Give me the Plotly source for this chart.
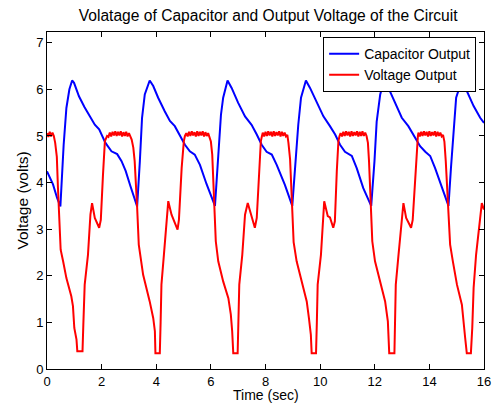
import plotly.graph_objects as go

# ---------------- data ----------------
cap_time = [0.00, 0.22, 0.37, 0.49, 0.61, 0.71, 0.82, 0.92, 0.99, 1.17, 1.37, 1.57, 1.75, 1.91,
            2.14, 2.36, 2.57, 2.73, 2.88, 3.05, 3.30,
            3.40, 3.48, 3.58, 3.76, 3.89, 4.07, 4.31, 4.50, 4.68, 4.86, 5.05, 5.23, 5.41, 5.60, 5.84, 6.15,
            6.27, 6.37, 6.45, 6.61, 6.76, 7.00, 7.25, 7.49, 7.68, 7.86, 8.04, 8.23, 8.41, 8.71, 8.98,
            9.10, 9.20, 9.30, 9.48, 9.63, 9.88, 10.12, 10.36, 10.55, 10.73, 10.91, 11.16, 11.34, 11.58, 11.87,
            11.99, 12.07, 12.20, 12.34, 12.50, 12.75, 12.99, 13.23, 13.48, 13.66, 13.85, 14.03, 14.21, 14.46, 14.70,
            14.79, 14.88, 14.98, 15.19, 15.37, 15.62, 15.86, 16.00]
cap_volt = [4.24, 3.96, 3.67, 3.49, 4.81, 5.60, 6.00, 6.19, 6.14, 5.85, 5.62, 5.42, 5.24, 5.14,
            4.85, 4.67, 4.61, 4.46, 4.25, 3.93, 3.49,
            4.46, 5.39, 5.89, 6.19, 6.07, 5.82, 5.53, 5.32, 5.21, 5.03, 4.81, 4.67, 4.60, 4.38, 3.97, 3.50,
            4.60, 5.46, 5.82, 6.19, 6.03, 5.71, 5.42, 5.24, 5.03, 4.81, 4.66, 4.60, 4.38, 3.95, 3.50,
            4.46, 5.24, 5.82, 6.19, 6.03, 5.71, 5.42, 5.21, 5.03, 4.81, 4.66, 4.57, 4.31, 3.88, 3.50,
            4.46, 5.30, 5.89, 6.20, 6.03, 5.71, 5.39, 5.21, 4.96, 4.78, 4.66, 4.57, 4.31, 3.88, 3.50,
            4.31, 5.10, 5.82, 6.20, 5.96, 5.64, 5.39, 5.28]

out_time = [0.00, 0.05, 0.10, 0.15, 0.20, 0.25,
            0.30, 0.36, 0.40, 0.45, 0.50, 0.59, 0.71, 0.89, 0.95, 1.00, 1.08, 1.11, 1.30, 1.33, 1.38,
            1.50, 1.59, 1.65, 1.75, 1.91, 1.97, 2.05, 2.12, 2.20,
            2.25, 2.30, 2.35, 2.40, 2.45, 2.50, 2.55, 2.60, 2.65, 2.70, 2.75, 2.80, 2.85, 2.90, 2.95, 3.00, 3.05,
            3.10, 3.16, 3.21, 3.30, 3.36, 3.52, 3.65, 3.76, 3.89, 3.95, 3.97, 4.13, 4.16, 4.19, 4.28, 4.38,
            4.44, 4.56, 4.78, 4.83, 4.93, 5.01, 5.05,
            5.10, 5.15, 5.20, 5.25, 5.30, 5.35, 5.40, 5.45, 5.50, 5.55, 5.60, 5.65, 5.70, 5.75, 5.80, 5.85,
            5.90, 5.95,
            6.00, 6.05, 6.12, 6.18, 6.27, 6.45, 6.64, 6.73, 6.78, 6.82, 6.98, 7.01, 7.04, 7.15, 7.25, 7.35,
            7.47, 7.61, 7.68, 7.76, 7.83, 7.87,
            7.90, 7.95, 8.00, 8.05, 8.10, 8.15, 8.20, 8.25, 8.30, 8.35, 8.40, 8.45, 8.50, 8.55, 8.60, 8.65,
            8.70, 8.75, 8.80,
            8.84, 8.90, 8.97, 9.03, 9.14, 9.33, 9.51, 9.59, 9.66, 9.69, 9.85, 9.88, 9.91, 10.03, 10.10, 10.15,
            10.28, 10.36, 10.48, 10.54, 10.61, 10.67, 10.71,
            10.75, 10.80, 10.85, 10.90, 10.95, 11.00, 11.05, 11.10, 11.15, 11.20, 11.25, 11.30, 11.35, 11.40,
            11.45, 11.50, 11.55, 11.60, 11.65, 11.70,
            11.75, 11.79, 11.87, 11.91, 12.01, 12.20, 12.38, 12.48, 12.51, 12.53, 12.72, 12.75, 12.77, 12.87,
            12.97, 13.05, 13.15, 13.33, 13.39, 13.48, 13.55, 13.58,
            13.60, 13.65, 13.70, 13.75, 13.80, 13.85, 13.90, 13.95, 14.00, 14.05, 14.10, 14.15, 14.20, 14.25,
            14.30, 14.35, 14.40, 14.45, 14.50,
            14.55, 14.60, 14.70, 14.76, 14.86, 15.01, 15.19, 15.25, 15.31, 15.37, 15.52, 15.57, 15.62, 15.71,
            15.84, 15.92, 16.00]
out_volt = [5.06, 4.98, 5.09, 4.99, 5.07, 5.00,
            4.85, 4.55, 3.90, 3.10, 2.56, 2.31, 1.95, 1.56, 1.35, 0.88, 0.63, 0.38, 0.38, 0.95, 1.81,
            2.45, 3.31, 3.56, 3.24, 3.03, 3.20, 4.17, 4.89, 5.00,
            4.98, 5.07, 4.99, 5.09, 5.01, 5.10, 5.00, 5.09, 5.01, 5.10, 4.99, 5.08, 5.00, 5.09, 4.99, 5.06, 5.00,
            4.92, 4.75, 4.46, 3.47, 2.67, 2.02, 1.72, 1.45, 1.09, 0.81, 0.34, 0.34, 1.00, 1.81, 2.45, 3.30,
            3.60, 3.31, 2.99, 3.20, 4.31, 4.89, 5.00,
            5.06, 4.99, 5.09, 5.00, 5.10, 5.01, 5.08, 4.99, 5.10, 5.00, 5.09, 5.01, 5.10, 4.99, 5.08, 5.00,
            5.06, 4.98,
            4.88, 4.60, 3.40, 2.74, 2.31, 1.88, 1.52, 1.17, 0.81, 0.34, 0.34, 1.00, 1.81, 2.45, 3.31, 3.56,
            3.31, 3.03, 3.24, 4.24, 4.89, 5.00,
            5.07, 4.99, 5.09, 5.00, 5.10, 5.01, 5.09, 4.99, 5.10, 5.00, 5.08, 5.01, 5.10, 4.99, 5.09, 5.00,
            5.07, 4.99, 5.02,
            4.85, 4.50, 3.55, 2.72, 2.31, 1.88, 1.45, 1.09, 0.74, 0.34, 0.34, 1.00, 1.81, 2.45, 3.20, 3.60,
            3.28, 3.25, 3.03, 3.17, 4.24, 4.89, 5.00,
            5.06, 4.99, 5.09, 5.00, 5.10, 5.01, 5.09, 4.99, 5.10, 5.00, 5.08, 5.01, 5.10, 4.99,
            5.09, 5.00, 5.10, 5.00, 5.07, 5.00,
            4.85, 4.46, 3.42, 2.74, 2.31, 1.88, 1.45, 1.02, 0.74, 0.34, 0.34, 1.00, 1.81, 2.45,
            3.17, 3.56, 3.24, 3.03, 3.20, 4.17, 4.89, 5.00,
            5.07, 4.99, 5.09, 5.00, 5.10, 5.01, 5.09, 4.99, 5.10, 5.00, 5.08, 5.01, 5.10, 4.99,
            5.09, 5.00, 5.07, 4.99, 5.02,
            4.88, 4.46, 3.45, 2.67, 2.31, 1.81, 1.38, 1.09, 0.67, 0.34, 0.34, 0.88, 1.74, 2.45,
            3.10, 3.56, 3.42]

x_ticks = [0, 2, 4, 6, 8, 10, 12, 14, 16]
y_ticks = [0, 1, 2, 3, 4, 5, 6, 7]

title_text = "Volatage of Capacitor and Output Voltage of the Circuit"
x_label = "Time (sec)"
y_label = "Voltage (volts)"
series_names = ["Capacitor Output", "Voltage Output"]

# ---------------- figure ----------------
FONT = "Liberation Sans, Arial, Helvetica, sans-serif"

fig = go.Figure()
fig.add_trace(go.Scatter(x=cap_time, y=cap_volt, mode="lines", name=series_names[0],
                         line=dict(color="#0000FF", width=2)))
fig.add_trace(go.Scatter(x=out_time, y=out_volt, mode="lines", name=series_names[1],
                         line=dict(color="#FF0000", width=2)))

axis_common = dict(showline=True, linecolor="black", linewidth=1, mirror="allticks",
                   ticks="inside", ticklen=5, tickcolor="black", showgrid=False,
                   zeroline=False, automargin=False,
                   tickfont=dict(family=FONT, size=13, color="black"))

fig.update_layout(
    width=493, height=404,
    margin=dict(l=47, r=9, t=32, b=35),
    paper_bgcolor="white", plot_bgcolor="white",
    font=dict(family=FONT, size=14, color="black"),
    title=dict(text=title_text, x=0.544, xanchor="center", y=0.962, yanchor="middle",
               font=dict(family=FONT, size=15.6, color="black")),
    xaxis=dict(range=[0, 16], tickvals=x_ticks, ticktext=[str(v) for v in x_ticks],
               **axis_common),
    yaxis=dict(range=[0, 7.23], tickvals=y_ticks, ticktext=[str(v) for v in y_ticks],
               title=dict(text=y_label, standoff=3, font=dict(family=FONT, size=15.5)),
               **axis_common),
    legend=dict(x=0.982, y=0.985, xanchor="right", yanchor="top",
                bgcolor="white", bordercolor="black", borderwidth=1,
                font=dict(family=FONT, size=14, color="black"),
                tracegroupgap=0, itemwidth=30),
    showlegend=True,
)

# x-axis title placed as a paper annotation below the tick labels
fig.add_annotation(text=x_label, xref="paper", yref="paper", x=0.5, y=-0.0785,
                   xanchor="center", yanchor="middle", showarrow=False,
                   font=dict(family=FONT, size=14, color="black"))

fig.write_html("out.html")
